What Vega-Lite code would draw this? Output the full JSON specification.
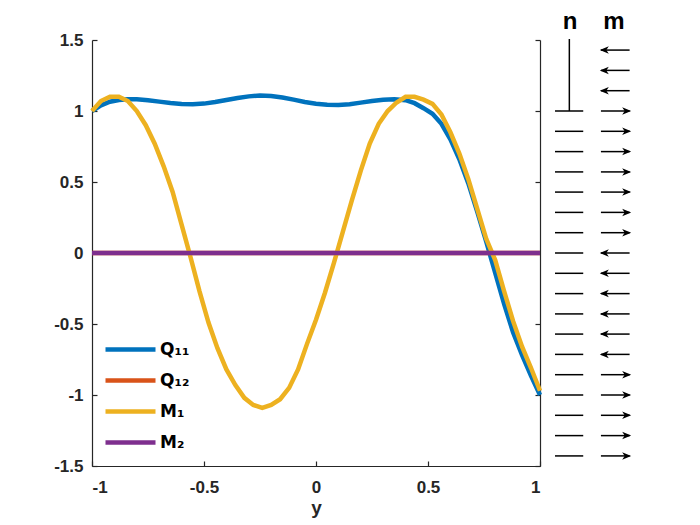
{
  "$schema": "https://vega.github.io/schema/vega-lite/v6.json",
  "autosize": {"type": "none"},
  "width": 448,
  "height": 426,
  "padding": {"left": 92, "top": 40, "right": 160, "bottom": 59},
  "background": "white",
  "config": {
    "view": {"stroke": null},
    "font": "Liberation Sans",
    "axis": {
      "labelFont": "Liberation Sans", "labelFontWeight": "bold", "labelFontSize": 17, "labelColor": "#262626",
      "titleFont": "Liberation Sans", "titleFontWeight": "bold", "titleFontSize": 19, "titleColor": "#262626",
      "domainColor": "#262626", "domainWidth": 1.2, "tickColor": "#262626", "tickWidth": 1.2,
      "tickSize": -5, "labelPadding": 14, "grid": false
    }
  },
  "datasets": {
    "curves": [
      {"series": "Q₁₁", "x": -1.00, "v": 1.00},
      {"series": "Q₁₁", "x": -0.96, "v": 1.04},
      {"series": "Q₁₁", "x": -0.92, "v": 1.065},
      {"series": "Q₁₁", "x": -0.88, "v": 1.078},
      {"series": "Q₁₁", "x": -0.84, "v": 1.083},
      {"series": "Q₁₁", "x": -0.80, "v": 1.083},
      {"series": "Q₁₁", "x": -0.75, "v": 1.076},
      {"series": "Q₁₁", "x": -0.70, "v": 1.066},
      {"series": "Q₁₁", "x": -0.65, "v": 1.056},
      {"series": "Q₁₁", "x": -0.60, "v": 1.049},
      {"series": "Q₁₁", "x": -0.55, "v": 1.047},
      {"series": "Q₁₁", "x": -0.50, "v": 1.052},
      {"series": "Q₁₁", "x": -0.45, "v": 1.063},
      {"series": "Q₁₁", "x": -0.40, "v": 1.078},
      {"series": "Q₁₁", "x": -0.35, "v": 1.092},
      {"series": "Q₁₁", "x": -0.30, "v": 1.103},
      {"series": "Q₁₁", "x": -0.25, "v": 1.109},
      {"series": "Q₁₁", "x": -0.20, "v": 1.106},
      {"series": "Q₁₁", "x": -0.15, "v": 1.095},
      {"series": "Q₁₁", "x": -0.10, "v": 1.08},
      {"series": "Q₁₁", "x": -0.05, "v": 1.064},
      {"series": "Q₁₁", "x": 0.00, "v": 1.051},
      {"series": "Q₁₁", "x": 0.05, "v": 1.044},
      {"series": "Q₁₁", "x": 0.10, "v": 1.042},
      {"series": "Q₁₁", "x": 0.15, "v": 1.048},
      {"series": "Q₁₁", "x": 0.20, "v": 1.059},
      {"series": "Q₁₁", "x": 0.25, "v": 1.07},
      {"series": "Q₁₁", "x": 0.30, "v": 1.079},
      {"series": "Q₁₁", "x": 0.35, "v": 1.083},
      {"series": "Q₁₁", "x": 0.40, "v": 1.076},
      {"series": "Q₁₁", "x": 0.44, "v": 1.055},
      {"series": "Q₁₁", "x": 0.48, "v": 1.02},
      {"series": "Q₁₁", "x": 0.52, "v": 0.98},
      {"series": "Q₁₁", "x": 0.56, "v": 0.91},
      {"series": "Q₁₁", "x": 0.60, "v": 0.80},
      {"series": "Q₁₁", "x": 0.64, "v": 0.66},
      {"series": "Q₁₁", "x": 0.68, "v": 0.49},
      {"series": "Q₁₁", "x": 0.72, "v": 0.29},
      {"series": "Q₁₁", "x": 0.76, "v": 0.08},
      {"series": "Q₁₁", "x": 0.80, "v": -0.14},
      {"series": "Q₁₁", "x": 0.84, "v": -0.36},
      {"series": "Q₁₁", "x": 0.88, "v": -0.56},
      {"series": "Q₁₁", "x": 0.92, "v": -0.72},
      {"series": "Q₁₁", "x": 0.96, "v": -0.865},
      {"series": "Q₁₁", "x": 1.00, "v": -1.00},
      {"series": "Q₁₂", "x": -1, "v": 0},
      {"series": "Q₁₂", "x": 1, "v": 0},
      {"series": "M₁", "x": -1.00, "v": 1.00},
      {"series": "M₁", "x": -0.96, "v": 1.07},
      {"series": "M₁", "x": -0.92, "v": 1.10},
      {"series": "M₁", "x": -0.88, "v": 1.10},
      {"series": "M₁", "x": -0.84, "v": 1.07},
      {"series": "M₁", "x": -0.80, "v": 1.00},
      {"series": "M₁", "x": -0.76, "v": 0.90},
      {"series": "M₁", "x": -0.72, "v": 0.77},
      {"series": "M₁", "x": -0.68, "v": 0.61},
      {"series": "M₁", "x": -0.64, "v": 0.43},
      {"series": "M₁", "x": -0.60, "v": 0.20},
      {"series": "M₁", "x": -0.56, "v": -0.03},
      {"series": "M₁", "x": -0.52, "v": -0.27},
      {"series": "M₁", "x": -0.48, "v": -0.49},
      {"series": "M₁", "x": -0.44, "v": -0.67},
      {"series": "M₁", "x": -0.40, "v": -0.82},
      {"series": "M₁", "x": -0.36, "v": -0.93},
      {"series": "M₁", "x": -0.32, "v": -1.02},
      {"series": "M₁", "x": -0.28, "v": -1.07},
      {"series": "M₁", "x": -0.24, "v": -1.09},
      {"series": "M₁", "x": -0.20, "v": -1.07},
      {"series": "M₁", "x": -0.16, "v": -1.03},
      {"series": "M₁", "x": -0.12, "v": -0.95},
      {"series": "M₁", "x": -0.08, "v": -0.82},
      {"series": "M₁", "x": -0.04, "v": -0.64},
      {"series": "M₁", "x": 0.00, "v": -0.47},
      {"series": "M₁", "x": 0.04, "v": -0.28},
      {"series": "M₁", "x": 0.08, "v": -0.07},
      {"series": "M₁", "x": 0.12, "v": 0.15},
      {"series": "M₁", "x": 0.16, "v": 0.37},
      {"series": "M₁", "x": 0.20, "v": 0.58},
      {"series": "M₁", "x": 0.24, "v": 0.77},
      {"series": "M₁", "x": 0.28, "v": 0.91},
      {"series": "M₁", "x": 0.32, "v": 1.00},
      {"series": "M₁", "x": 0.36, "v": 1.06},
      {"series": "M₁", "x": 0.40, "v": 1.10},
      {"series": "M₁", "x": 0.44, "v": 1.10},
      {"series": "M₁", "x": 0.48, "v": 1.08},
      {"series": "M₁", "x": 0.52, "v": 1.05},
      {"series": "M₁", "x": 0.56, "v": 0.975},
      {"series": "M₁", "x": 0.60, "v": 0.85},
      {"series": "M₁", "x": 0.64, "v": 0.70},
      {"series": "M₁", "x": 0.68, "v": 0.52},
      {"series": "M₁", "x": 0.72, "v": 0.31},
      {"series": "M₁", "x": 0.76, "v": 0.10},
      {"series": "M₁", "x": 0.80, "v": -0.05},
      {"series": "M₁", "x": 0.84, "v": -0.27},
      {"series": "M₁", "x": 0.88, "v": -0.48},
      {"series": "M₁", "x": 0.92, "v": -0.66},
      {"series": "M₁", "x": 0.96, "v": -0.81},
      {"series": "M₁", "x": 1.00, "v": -0.97},
      {"series": "M₂", "x": -1, "v": 0},
      {"series": "M₂", "x": 1, "v": 0}
    ],
    "rows": [
      {"y": 1.429, "dir": "left"},
      {"y": 1.286, "dir": "left"},
      {"y": 1.143, "dir": "left"},
      {"y": 1.0, "dir": "right"},
      {"y": 0.857, "dir": "right"},
      {"y": 0.714, "dir": "right"},
      {"y": 0.571, "dir": "right"},
      {"y": 0.429, "dir": "right"},
      {"y": 0.286, "dir": "right"},
      {"y": 0.143, "dir": "right"},
      {"y": 0.0, "dir": "left"},
      {"y": -0.143, "dir": "left"},
      {"y": -0.286, "dir": "left"},
      {"y": -0.429, "dir": "left"},
      {"y": -0.571, "dir": "left"},
      {"y": -0.714, "dir": "left"},
      {"y": -0.857, "dir": "right"},
      {"y": -1.0, "dir": "right"},
      {"y": -1.143, "dir": "right"},
      {"y": -1.286, "dir": "right"},
      {"y": -1.429, "dir": "right"}
    ]
  },
  "layer": [
    {
      "data": {"name": "curves"},
      "transform": [{"filter": "datum.series === 'Q₁₁'"}],
      "mark": {"type": "line", "strokeWidth": 4.5},
      "encoding": {
        "x": {"field": "x", "type": "quantitative", "title": "y",
              "scale": {"domain": [-1, 1], "nice": false, "zero": false},
              "axis": {"values": [-1, -0.5, 0, 0.5, 1], "labelExpr": "datum.value + ''", "titlePadding": 3, "labelPadding": 18}},
        "y": {"field": "v", "type": "quantitative", "title": null,
              "scale": {"domain": [-1.5, 1.5], "nice": false, "zero": false},
              "axis": {"orient": "left", "values": [-1.5, -1, -0.5, 0, 0.5, 1, 1.5], "labelExpr": "datum.value + ''"}},
        "color": {"field": "series", "type": "nominal",
                  "scale": {"domain": ["Q₁₁", "Q₁₂", "M₁", "M₂"], "range": ["#0072BD", "#D95319", "#EDB120", "#7E2F8E"]},
                  "legend": {"orient": "none", "legendX": 26, "legendY": 297, "title": null, "padding": 0,
                             "symbolType": "M-2.5,0H2.5", "symbolSize": 400, "symbolStrokeWidth": 4.5,
                             "rowPadding": 9, "labelOffset": 17, "labelFont": "DejaVu Sans",
                             "labelFontWeight": "bold", "labelFontSize": 17, "labelColor": "black"}}
      }
    },
    {
      "data": {"name": "curves"},
      "transform": [{"filter": "datum.series === 'Q₁₂'"}],
      "mark": {"type": "line", "strokeWidth": 4.5},
      "encoding": {
        "x": {"field": "x", "type": "quantitative"},
        "y": {"field": "v", "type": "quantitative", "axis": null},
        "color": {"field": "series", "type": "nominal"}
      }
    },
    {
      "data": {"name": "curves"},
      "transform": [{"filter": "datum.series === 'M₁'"}],
      "mark": {"type": "line", "strokeWidth": 4.5},
      "encoding": {
        "x": {"field": "x", "type": "quantitative"},
        "y": {"field": "v", "type": "quantitative", "axis": null},
        "color": {"field": "series", "type": "nominal"}
      }
    },
    {
      "data": {"name": "curves"},
      "transform": [{"filter": "datum.series === 'M₂'"}],
      "mark": {"type": "line", "strokeWidth": 4.5},
      "encoding": {
        "x": {"field": "x", "type": "quantitative"},
        "y": {"field": "v", "type": "quantitative",
              "axis": {"orient": "right", "values": [-1.5, -1, -0.5, 0, 0.5, 1, 1.5], "labels": false, "title": null}},
        "color": {"field": "series", "type": "nominal"}
      }
    },
    {
      "data": {"name": "rows"},
      "transform": [{"filter": "datum.y <= 1.0"}],
      "mark": {"type": "rule", "color": "black", "strokeWidth": 1.5},
      "encoding": {
        "x": {"datum": 1.067, "type": "quantitative"},
        "x2": {"datum": 1.193},
        "y": {"field": "y", "type": "quantitative", "axis": null}
      }
    },
    {
      "data": {"values": [{}]},
      "mark": {"type": "rule", "color": "black", "strokeWidth": 1.5},
      "encoding": {
        "x": {"datum": 1.131, "type": "quantitative"},
        "y": {"datum": 1.0, "type": "quantitative", "axis": null},
        "y2": {"datum": 1.507}
      }
    },
    {
      "data": {"name": "rows"},
      "mark": {"type": "rule", "color": "black", "strokeWidth": 1.5},
      "encoding": {
        "x": {"datum": 1.272, "type": "quantitative"},
        "x2": {"datum": 1.40},
        "y": {"field": "y", "type": "quantitative", "axis": null}
      }
    },
    {
      "data": {"name": "rows"},
      "transform": [{"filter": "datum.dir === 'right'"}],
      "mark": {"type": "point", "shape": "M0,0L-1.8,-0.75L-1.3,0L-1.8,0.75Z", "size": 100, "filled": true, "color": "black", "opacity": 1, "strokeWidth": 0},
      "encoding": {
        "x": {"datum": 1.407, "type": "quantitative"},
        "y": {"field": "y", "type": "quantitative", "axis": null}
      }
    },
    {
      "data": {"name": "rows"},
      "transform": [{"filter": "datum.dir === 'left'"}],
      "mark": {"type": "point", "shape": "M0,0L1.8,-0.75L1.3,0L1.8,0.75Z", "size": 100, "filled": true, "color": "black", "opacity": 1, "strokeWidth": 0},
      "encoding": {
        "x": {"datum": 1.267, "type": "quantitative"},
        "y": {"field": "y", "type": "quantitative", "axis": null}
      }
    },
    {
      "data": {"values": [{}]},
      "mark": {"type": "text", "text": "n", "font": "Liberation Sans", "fontWeight": "bold", "fontSize": 24, "color": "black", "baseline": "middle", "align": "center"},
      "encoding": {
        "x": {"datum": 1.134, "type": "quantitative"},
        "y": {"datum": 1.627, "type": "quantitative", "axis": null}
      }
    },
    {
      "data": {"values": [{}]},
      "mark": {"type": "text", "text": "m", "font": "Liberation Sans", "fontWeight": "bold", "fontSize": 24, "color": "black", "baseline": "middle", "align": "center"},
      "encoding": {
        "x": {"datum": 1.330, "type": "quantitative"},
        "y": {"datum": 1.627, "type": "quantitative", "axis": null}
      }
    }
  ],
  "resolve": {"axis": {"y": "independent"}}
}
